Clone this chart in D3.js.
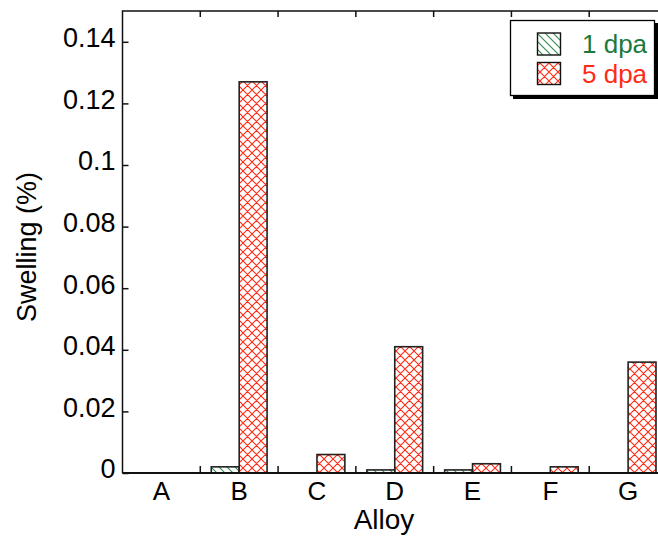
<!DOCTYPE html>
<html><head><meta charset="utf-8">
<script src="https://cdn.jsdelivr.net/npm/d3@7"></script>
<style>body{margin:0;background:#fff}svg{display:block}text{font-family:Arial,"Liberation Sans",sans-serif}</style>
</head><body>
<svg id="c" width="658" height="538"></svg>
<script>
const categories = ["A","B","C","D","E","F","G"];
const series = ["1 dpa","5 dpa"];
const dpa1 = [0, 0.002, 0, 0.001, 0.001, 0, 0];
const dpa5 = [0, 0.127, 0.006, 0.041, 0.003, 0.002, 0.036];
const yTicks = [0, 0.02, 0.04, 0.06, 0.08, 0.1, 0.12, 0.14];

const svg = d3.select("#c");
const L = 122.5, R = 667, T = 11, B = 473;
const x = d3.scaleBand().domain(categories).range([L, R]);
const xs = d3.scaleBand().domain(series).range([11, x.bandwidth() - 11]);
const y = d3.scaleLinear().domain([0, 0.15]).range([B, T]);

const defs = svg.append("defs");
const p1 = defs.append("pattern").attr("id","h1").attr("patternUnits","userSpaceOnUse")
  .attr("width",8).attr("height",8);
p1.append("path").attr("d","M0,0L8,8M-4,4L4,12M4,-4L12,4").attr("stroke","#2e8b4a").attr("stroke-width",1.1);
const p2 = defs.append("pattern").attr("id","h2").attr("patternUnits","userSpaceOnUse")
  .attr("width",9).attr("height",9);
p2.append("path").attr("d","M0,0L9,9M-4.5,4.5L4.5,13.5M4.5,-4.5L13.5,4.5M9,0L0,9M4.5,-4.5L-4.5,4.5M13.5,4.5L4.5,13.5")
  .attr("stroke","#ff2a14").attr("stroke-width",1.1);

const data = categories.map((c,i)=>({c, v:[dpa1[i], dpa5[i]]}));
const g = svg.append("g");
data.forEach(d=>{
  series.forEach((s,j)=>{
    const v = d.v[j];
    if (v <= 0) return;
    g.append("rect")
      .attr("x", x(d.c) + xs(s))
      .attr("y", y(v))
      .attr("width", xs.bandwidth())
      .attr("height", B - y(v))
      .attr("fill", j===0 ? "url(#h1)" : "url(#h2)")
      .attr("stroke", "#222").attr("stroke-width", 1.6);
  });
});

// frame
svg.append("path").attr("d",`M${L},${B}L${L},${T}L${R},${T}`).attr("fill","none").attr("stroke","#111").attr("stroke-width",1.5);
svg.append("line").attr("x1",L).attr("x2",R).attr("y1",B).attr("y2",B).attr("stroke","#111").attr("stroke-width",1.8);

// y axis
const yAxis = d3.axisRight(y).tickValues(yTicks).tickSize(6).tickFormat(d=>String(+d.toFixed(2)));
const ya = svg.append("g").attr("transform",`translate(${L},0)`).call(yAxis);
ya.select(".domain").remove();
ya.selectAll(".tick line").attr("stroke","#111").attr("stroke-width",1.5);
ya.selectAll(".tick text").attr("x",-7).attr("text-anchor","end").attr("font-size",27).attr("fill","#000").attr("dy","0.18em");

// x axis
const xb = svg.append("g").attr("transform",`translate(0,${B})`);
categories.forEach(c=>{
  xb.append("text").attr("x", x(c)+x.bandwidth()/2).attr("y", 27).attr("text-anchor","middle")
    .attr("font-size",26).attr("fill","#000").text(c);
});
categories.slice(1).forEach(c=>{
  svg.append("line").attr("x1",x(c)).attr("x2",x(c)).attr("y1",B).attr("y2",B-7).attr("stroke","#111").attr("stroke-width",1.5);
  svg.append("line").attr("x1",x(c)).attr("x2",x(c)).attr("y1",T).attr("y2",T+6).attr("stroke","#111").attr("stroke-width",1.5);
});

// axis titles
svg.append("text").attr("x",384).attr("y",529).attr("text-anchor","middle").attr("font-size",28).text("Alloy");
svg.append("text").attr("transform","translate(36,247) rotate(-90)").attr("text-anchor","middle").attr("font-size",27).text("Swelling (%)");

// legend
const lg = svg.append("g");
lg.append("rect").attr("x",513).attr("y",23).attr("width",145).attr("height",76).attr("fill","#000");
lg.append("rect").attr("x",510.5).attr("y",20.5).attr("width",144).attr("height",75).attr("fill","#fff").attr("stroke","#000").attr("stroke-width",1.3);
const legCols = ["#1a7a3c","#ff2a14"];
series.forEach((s,j)=>{
  const yy = 33 + j*29.5;
  lg.append("rect").attr("x",537.5).attr("y",yy).attr("width",23).attr("height",22)
    .attr("fill", j===0?"url(#h1)":"url(#h2)").attr("stroke","#111").attr("stroke-width",1.4);
  lg.append("text").attr("x",582).attr("y",yy+20).attr("font-size",26).attr("fill",legCols[j]).text(s);
});
</script>
</body></html>
